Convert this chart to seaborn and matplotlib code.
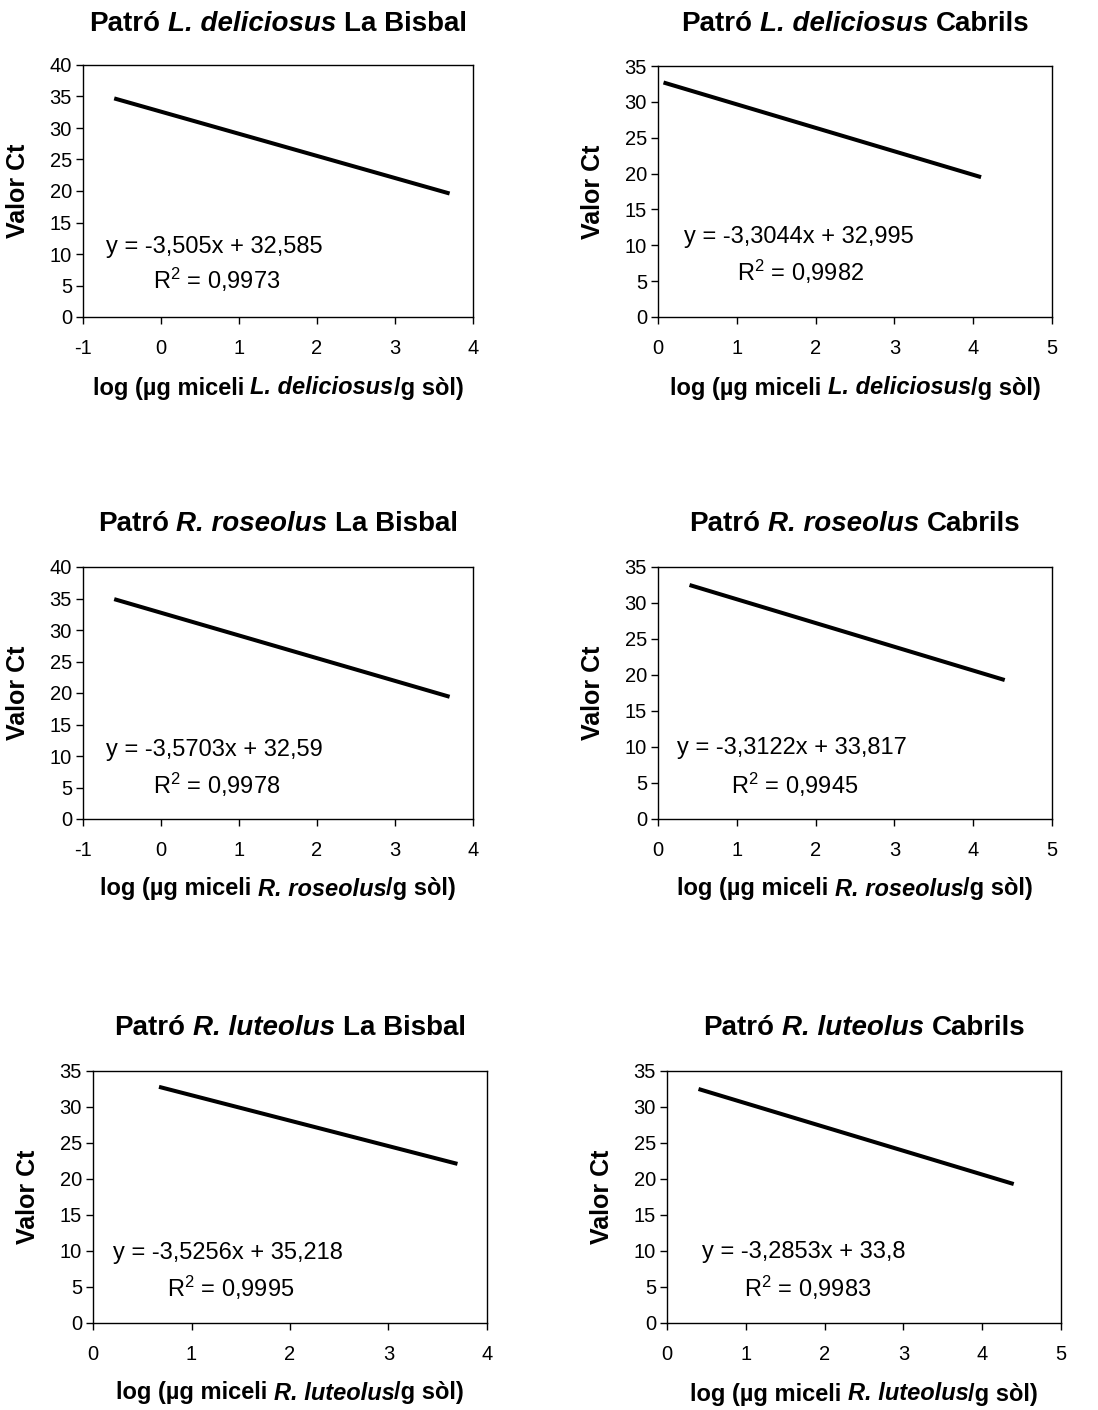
import matplotlib
matplotlib.use("Agg")
import matplotlib.pyplot as plt
from matplotlib.transforms import IdentityTransform
import seaborn as sns
import pandas as pd

sns.set_style("white")
plt.rcParams['font.family'] = ['Liberation Sans', 'DejaVu Sans']
plt.rcParams['mathtext.fontset'] = 'custom'
plt.rcParams['mathtext.rm'] = 'Liberation Sans'
plt.rcParams['mathtext.it'] = 'Liberation Sans:italic'
plt.rcParams['axes.unicode_minus'] = False
plt.rcParams['text.color'] = 'black'
plt.rcParams['axes.labelcolor'] = 'black'
plt.rcParams['xtick.color'] = 'black'
plt.rcParams['ytick.color'] = 'black'

# ---- data ----
species = ["L. deliciosus", "L. deliciosus", "R. roseolus", "R. roseolus", "R. luteolus", "R. luteolus"]
sites = ["La Bisbal", "Cabrils", "La Bisbal", "Cabrils", "La Bisbal", "Cabrils"]
x_start = [-0.6, 0.07, -0.6, 0.4, 0.67, 0.4]
x_end = [3.7, 4.1, 3.7, 4.4, 3.7, 4.4]
y_start = [34.7, 32.7, 34.9, 32.5, 32.8, 32.5]
y_end = [19.6, 19.5, 19.4, 19.3, 22.1, 19.3]
equations = ["y = -3,505x + 32,585", "y = -3,3044x + 32,995", "y = -3,5703x + 32,59",
             "y = -3,3122x + 33,817", "y = -3,5256x + 35,218", "y = -3,2853x + 33,8"]
r2_values = ["0,9973", "0,9982", "0,9978", "0,9945", "0,9995", "0,9983"]
x_limits = [(-1, 4), (0, 5), (-1, 4), (0, 5), (0, 4), (0, 5)]
y_limits = [(0, 40), (0, 35), (0, 40), (0, 35), (0, 35), (0, 35)]

# ---- layout (pixels) ----
W, H = 1098, 1410
axes_px = [  # left, top, right, bottom
    (83, 65, 473, 317), (658, 66, 1052, 317),
    (83, 567, 473, 819), (658, 567, 1052, 819),
    (93, 1071, 487, 1323), (667, 1071, 1061, 1323),
]
title_y = [24, 24, 524, 524, 1028, 1028]
xlabel_y = [388, 388, 889, 889, 1393, 1394]
eq_pos = [(0.059, 0.278), (0.066, 0.319), (0.059, 0.274), (0.048, 0.282), (0.051, 0.278), (0.089, 0.282)]
r2_pos = [(0.179, 0.147), (0.200, 0.180), (0.179, 0.135), (0.185, 0.135), (0.188, 0.139), (0.195, 0.139)]

fig = plt.figure(figsize=(W / 100, H / 100), dpi=100)
renderer = fig.canvas.get_renderer()


def text_width(s, size, style):
    t = fig.text(0, 0, s, fontsize=size, fontweight='bold', fontstyle=style)
    w = t.get_window_extent(renderer).width
    t.remove()
    return w


def rich_text(cx, cy, pieces, size):
    """pieces: list of (text, style, space_before); centered at (cx, cy) pixel coords from top."""
    sp = text_width("x x", size, 'normal') - text_width("xx", size, 'normal')
    widths = [text_width(s, size, st) for s, st, _ in pieces]
    total = sum(widths) + sp * sum(1 for _, _, g in pieces if g)
    x = cx - total / 2
    for (s, st, g), w in zip(pieces, widths):
        if g:
            x += sp
        fig.text(x, H - cy, s, fontsize=size, fontweight='bold', fontstyle=st,
                 ha='left', va='center', transform=IdentityTransform(), color='black')
        x += w


for i in range(6):
    l, t, r, b = axes_px[i]
    ax = fig.add_axes([l / W, 1 - b / H, (r - l) / W, (b - t) / H])
    df = pd.DataFrame({"x": [x_start[i], x_end[i]], "y": [y_start[i], y_end[i]]})
    sns.lineplot(data=df, x="x", y="y", ax=ax, color="black", linewidth=2.9,
                 solid_capstyle='butt')
    ax.set_xlim(*x_limits[i])
    ax.set_ylim(*y_limits[i])
    ax.set_xticks(range(x_limits[i][0], x_limits[i][1] + 1))
    ax.set_yticks(range(0, y_limits[i][1] + 1, 5))
    ax.tick_params(axis='both', which='major', direction='out', length=5, width=1,
                   labelsize=14.5, color='black', labelcolor='black', pad=3,
                   left=True, bottom=True)
    ax.tick_params(axis='x', pad=11)
    for sp in ax.spines.values():
        sp.set_visible(True)
        sp.set_color('black')
        sp.set_linewidth(1.0)
    ax.set_xlabel("")
    ax.set_ylabel("Valor Ct", fontsize=18, fontweight='bold')
    ax.yaxis.set_label_coords(-(53) / (r - l), 0.5)

    ax.text(eq_pos[i][0], eq_pos[i][1], equations[i], transform=ax.transAxes,
            fontsize=17, ha='left', va='center', color='black')
    ax.text(r2_pos[i][0], r2_pos[i][1], "R$^{2}$ = " + r2_values[i], transform=ax.transAxes,
            fontsize=17, ha='left', va='center', color='black')

    cx = (l + r) / 2
    rich_text(cx, title_y[i], [("Patró", 'normal', False), (species[i], 'italic', True),
                               (sites[i], 'normal', True)], 20)
    rich_text(cx, xlabel_y[i], [("log (µg miceli", 'normal', False), (species[i], 'italic', True),
                                ("/g sòl)", 'normal', False)], 17)

fig.savefig("out.png", dpi=100)
